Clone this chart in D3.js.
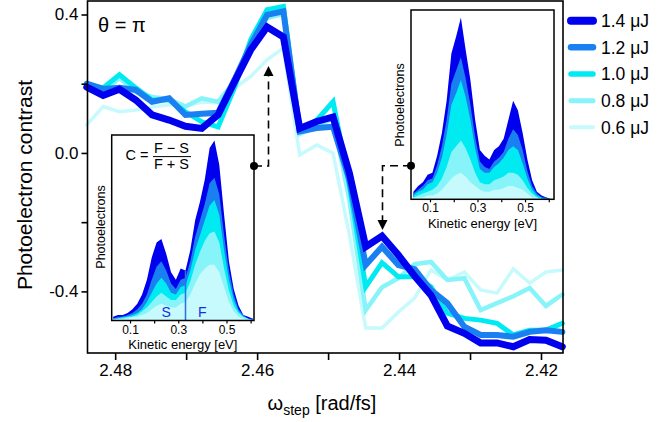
<!DOCTYPE html>
<html><head><meta charset="utf-8">
<script src="https://cdn.jsdelivr.net/npm/d3@7"></script>
<style>body{margin:0;background:#fff} svg{display:block} text{font-family:"Liberation Sans",Arial,Helvetica,sans-serif;fill:#000}</style>
</head><body><svg id="c" width="672" height="422"></svg>
<script>
// ---------- data ----------
const omega = [2.4840,2.4817,2.4794,2.4771,2.4748,2.4724,2.4701,2.4678,2.4655,2.4632,2.4609,2.4586,2.4563,2.4540,2.4516,2.4493,2.4470,2.4447,2.4424,2.4401,2.4378,2.4355,2.4332,2.4308,2.4285,2.4262,2.4239,2.4216,2.4193,2.4170];
const seriesNames = ["1.4 μJ","1.2 μJ","1.0 μJ","0.8 μJ","0.6 μJ"];
const c14 = [0.190,0.166,0.184,0.153,0.110,0.095,0.077,0.071,0.110,0.205,0.298,0.364,0.335,0.071,0.091,0.104,-0.058,-0.271,-0.240,-0.295,-0.356,-0.411,-0.500,-0.521,-0.549,-0.549,-0.560,-0.539,-0.541,-0.560];
const c12 = [0.200,0.185,0.188,0.182,0.148,0.158,0.110,0.113,0.116,0.211,0.312,0.399,0.409,0.062,0.072,0.076,-0.078,-0.324,-0.271,-0.324,-0.336,-0.396,-0.434,-0.502,-0.526,-0.526,-0.531,-0.517,-0.512,-0.517];
const c10 = [0.197,0.188,0.226,0.188,0.153,0.153,0.119,0.090,0.075,0.188,0.327,0.414,0.423,0.064,0.095,0.148,-0.093,-0.387,-0.317,-0.358,-0.358,-0.387,-0.463,-0.478,-0.483,-0.492,-0.526,-0.512,-0.512,-0.492];
const c08 = [0.200,0.176,0.217,0.176,0.162,0.155,0.134,0.158,0.148,0.205,0.304,0.390,0.402,0.055,0.075,0.101,-0.136,-0.454,-0.388,-0.362,-0.321,-0.315,-0.367,-0.362,-0.454,-0.434,-0.414,-0.390,-0.442,-0.409];
const c06 = [0.081,0.134,0.119,0.124,0.133,0.139,0.136,0.147,0.145,0.187,0.221,0.269,0.303,-0.006,0.023,-0.001,-0.237,-0.506,-0.506,-0.460,-0.419,-0.338,-0.367,-0.344,-0.396,-0.405,-0.335,-0.376,-0.344,-0.338];
const yTicks = [-0.4,-0.2,0.0,0.2,0.4];
const yTickLabels = ["-0.4","","0.0","","0.4"];
const xTicks = [2.48,2.47,2.46,2.45,2.44,2.43,2.42];
const xTickLabels = ["2.48","","2.46","","2.44","","2.42"];

// inset spectra (kinetic energy in eV, photoelectrons in arb. units)
const energy = [0.03,0.05,0.07,0.09,0.11,0.13,0.15,0.17,0.19,0.21,0.23,0.25,0.27,0.29,0.31,0.33,0.35,0.37,0.39,0.41,0.43,0.45,0.47,0.49,0.51,0.53,0.55,0.57,0.59,0.61];
// left inset (omega ~ 2.459)
const specA14 = [2,3,3,4,6,9,14,22,34,42,44,36,26,22,28,27,38,54,64,76,93,97,84,57,32,17,8,3,2,1];
const specA12 = [1,2,2,3,4,6,9,14,22,29,32,27,20,17,22,23,32,45,54,63,74,77,68,46,27,14,6,3,1,1];
const specA10 = [1,1,2,2,3,4,6,10,15,20,23,20,15,14,18,19,27,38,46,54,62,65,57,38,22,11,5,2,1,0];
const specA08 = [1,1,1,2,2,3,5,7,10,13,15,13,11,11,14,15,21,30,37,43,47,48,42,28,16,8,4,2,1,0];
const specA06 = [0,1,1,1,2,2,3,4,6,8,9,8,7,7,9,10,14,20,25,28,30,30,26,18,10,5,2,1,0,0];
// right inset (omega ~ 2.442)
const specB14 = [4,7,9,13,14,23,35,52,77,86,96,79,63,42,26,23,21,26,28,32,42,52,47,35,21,10,4,2,1,0];
const specB12 = [3,5,7,10,11,18,28,42,61,68,75,64,50,33,20,17,16,20,22,25,32,37,34,26,15,7,3,1,1,0];
const specB10 = [2,4,5,8,9,14,22,34,50,56,63,54,42,27,16,14,14,17,19,22,26,28,26,19,11,5,2,1,0,0];
const specB08 = [1,2,3,4,5,7,11,17,25,28,31,27,21,14,9,8,8,10,11,12,14,14,13,10,6,3,1,0,0,0];
const specB06 = [1,1,1,2,2,3,5,8,11,13,14,12,9,7,5,4,4,5,5,6,7,7,6,5,3,1,1,0,0,0];
const insetTicks = [0.1,0.2,0.3,0.4,0.5,0.6];
const insetTickLabels = ["0.1","","0.3","","0.5",""];

// ---------- styles ----------
const colors = ["#0000ee","#1a80f2","#00eaf2","#86f4f8","#c6fafc"];
const widths = [7,6,5,4.5,3.5];
const legendWidths = [8,6.5,5.5,5,4];

const svg = d3.select("#c");
const L=87.5, R=563, T=1, B=353;
const x = d3.scaleLinear().domain([2.4839,2.4169]).range([L,R]);
const y = d3.scaleLinear().domain([0.439,-0.578]).range([T,B]);

// lines: lightest first
const allSeries = [c14,c12,c10,c08,c06];
const line = d3.line().x((d,i)=>x(omega[i])).y(d=>y(d)).curve(d3.curveLinear);
for (let k=4;k>=0;k--){
  svg.append("path").attr("d",line(allSeries[k])).attr("fill","none")
    .attr("stroke",colors[k]).attr("stroke-width",widths[k])
    .attr("stroke-linejoin","miter").attr("stroke-miterlimit",3).attr("stroke-linecap","round");
}

// frame
svg.append("rect").attr("x",L).attr("y",T).attr("width",R-L).attr("height",B-T)
  .attr("fill","none").attr("stroke","#000").attr("stroke-width",1.6);

// axes
const yAxis = d3.axisLeft(y).tickValues(yTicks).tickSize(6).tickPadding(3)
  .tickFormat((d,i)=>yTickLabels[i]);
const gy = svg.append("g").attr("transform",`translate(${L},0)`).call(yAxis);
const xAxis = d3.axisBottom(x).tickValues(xTicks).tickSize(7).tickPadding(4)
  .tickFormat((d,i)=>xTickLabels[i]);
const gx = svg.append("g").attr("transform",`translate(0,${B})`).call(xAxis);
[gx,gy].forEach(g=>{
  g.select(".domain").remove();
  g.selectAll(".tick line").attr("stroke","#000").attr("stroke-width",1.6);
  g.selectAll(".tick text").attr("font-size",17).attr("font-family","Liberation Sans, Arial, sans-serif").attr("fill","#000");
});

// axis titles
svg.append("text").attr("transform","translate(32,185) rotate(-90)")
  .attr("text-anchor","middle").attr("font-size",21).text("Photoelectron contrast");
const xt = svg.append("text").attr("x",322).attr("y",410).attr("text-anchor","middle").attr("font-size",20);
xt.append("tspan").text("ω");
xt.append("tspan").attr("font-size",14).attr("dy",5).text("step");
xt.append("tspan").attr("dy",-5).text(" [rad/fs]");

svg.append("text").attr("x",98).attr("y",32).attr("font-size",20).text("θ = π");

// legend
seriesNames.forEach((nm,k)=>{
  const ly = 20.7 + k*26.65;
  svg.append("line").attr("x1",571).attr("x2",593).attr("y1",ly).attr("y2",ly)
    .attr("stroke",colors[k]).attr("stroke-width",legendWidths[k]).attr("stroke-linecap","round");
  svg.append("text").attr("x",601).attr("y",ly).attr("dy","0.36em").attr("font-size",17.5).text(nm);
});

// insets
function inset(box, specs, opts){
  const g = svg.append("g");
  const ix = d3.scaleLinear().domain(opts.xdom).range([box.l,box.r]);
  const iy = d3.scaleLinear().domain([0,100]).range([box.b,box.t]);
  const cid = "clip"+opts.id;
  svg.append("clipPath").attr("id",cid).append("rect")
    .attr("x",box.l).attr("y",box.t).attr("width",box.r-box.l).attr("height",box.b-box.t);
  g.append("rect").attr("x",box.l).attr("y",box.t).attr("width",box.r-box.l).attr("height",box.b-box.t).attr("fill","#fff");
  const area = d3.area().x((d,i)=>ix(energy[i])).y0(iy(0)).y1(d=>iy(d));
  const ga = g.append("g").attr("clip-path",`url(#${cid})`);
  specs.forEach((s,k)=>{
    ga.append("path").attr("d",area(s)).attr("fill",colors[k]).attr("stroke","none");
  });
  if (opts.divider){
    ga.append("line").attr("x1",ix(0.33)).attr("x2",ix(0.33)).attr("y1",iy(27)).attr("y2",box.b)
      .attr("stroke","#2a6ee8").attr("stroke-width",1.5);
    g.append("text").attr("x",ix(0.25)).attr("y",box.b-4).attr("text-anchor","middle").attr("font-size",14).style("fill","#1530e0").text("S");
    g.append("text").attr("x",ix(0.40)).attr("y",box.b-4).attr("text-anchor","middle").attr("font-size",14).style("fill","#1530e0").text("F");
  }
  g.append("rect").attr("x",box.l).attr("y",box.t).attr("width",box.r-box.l).attr("height",box.b-box.t)
    .attr("fill","none").attr("stroke","#000").attr("stroke-width",1.5);
  const ax = d3.axisBottom(ix).tickValues(insetTicks).tickSize(3).tickPadding(1.5)
    .tickFormat((d,i)=>insetTickLabels[i]);
  const gax = g.append("g").attr("transform",`translate(0,${box.b})`).call(ax);
  gax.select(".domain").remove();
  gax.selectAll(".tick line").attr("stroke","#000").attr("stroke-width",1.2);
  gax.selectAll(".tick text").attr("font-size",12).attr("font-family","Liberation Sans, Arial, sans-serif").attr("fill","#000");
  g.append("text").attr("x",(box.l+box.r)/2).attr("y",box.b+28.5).attr("text-anchor","middle").attr("font-size",13).text("Kinetic energy [eV]");
  g.append("text").attr("transform",`translate(${box.l-7},${opts.ylabY}) rotate(-90)`).attr("text-anchor","middle").attr("font-size",12.5).text("Photoelectrons");
  return g;
}
const boxA = {l:111.7,r:254,t:135,b:320.5};
const boxB = {l:411,r:554,t:10,b:199.3};
inset(boxA,[specA14,specA12,specA10,specA08,specA06],{xdom:[0.024,0.614],id:"A",divider:true,ylabY:227});
inset(boxB,[specB14,specB12,specB10,specB08,specB06],{xdom:[0.02,0.622],id:"B",divider:false,ylabY:105});

// formula
svg.append("text").attr("x",125.5).attr("y",160).attr("font-size",14.5).text("C =");
svg.append("text").attr("x",171.5).attr("y",153.3).attr("text-anchor","middle").attr("font-size",14.5).text("F − S");
svg.append("line").attr("x1",153).attr("x2",191).attr("y1",156.6).attr("y2",156.6).attr("stroke","#000").attr("stroke-width",1);
svg.append("text").attr("x",171.5).attr("y",168.5).attr("text-anchor","middle").attr("font-size",14.5).text("F + S");

// dashed connectors with arrows
function connector(pts, tip, dir){
  svg.append("path").attr("d",d3.line()(pts)).attr("fill","none").attr("stroke","#000")
    .attr("stroke-width",1.6).attr("stroke-dasharray","8,5");
  svg.append("circle").attr("cx",pts[0][0]).attr("cy",pts[0][1]).attr("r",4).attr("fill","#000");
  const [tx,ty]=tip, h=10*dir, w=5;
  svg.append("path").attr("d",`M${tx},${ty}L${tx-w},${ty+h}L${tx+w},${ty+h}Z`).attr("fill","#000");
}
connector([[254,166],[268.5,166],[268.5,76]],[268.5,66],1);
connector([[411,165.7],[382.5,165.7],[382.5,220]],[382.5,230],-1);
</script></body></html>
